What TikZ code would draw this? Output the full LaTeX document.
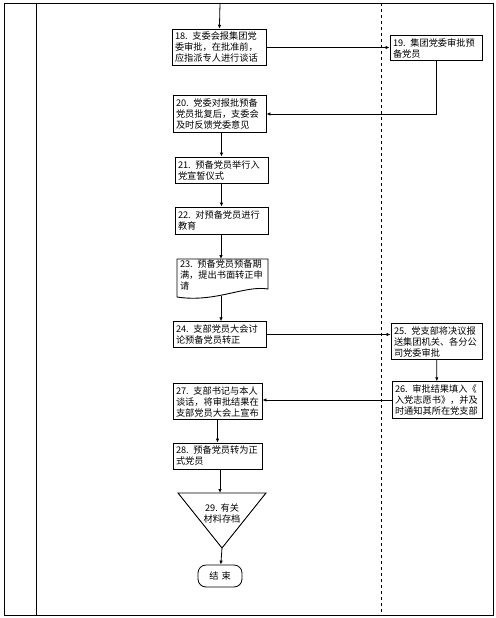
\documentclass[tikz,border=0pt]{standalone}
\usepackage{fontspec}
\setmainfont{Noto Sans CJK SC}
\usetikzlibrary{arrows.meta}

\tikzset{
  stepbox/.style={draw, line width=0.9pt, align=left, inner sep=3pt,
    anchor=center, font=\fontsize{9.2}{11}\selectfont},
  flow/.style={line width=0.8pt, ->},
}

\begin{document}
\begin{tikzpicture}[x=1pt, y=-1pt, >={Latex[length=4pt,width=3.5pt]}]
      \useasboundingbox (0,0) rectangle (495,618);
      \draw[line width=0.9pt] (4,3) rectangle (493,615);
      \draw[line width=0.9pt] (36,3) -- (36,615);
      \draw[dashed, line width=0.7pt] (381,3) -- (381,615);
      \coordinate (top) at (220,3);
      \node[stepbox, text width=88pt, minimum height=33pt] at (219, 47.5) (s18) {18. 支委会报集团党\\委审批，在批准前，\\应指派专人进行谈话};
      \node[stepbox, text width=86pt, minimum height=24pt] at (436, 48)   (s19) {19. 集团党委审批预\\备党员};
      \node[stepbox, text width=87pt, minimum height=34pt] at (219.5, 114) (s20) {20. 党委对报批预备\\党员批复后，支委会\\及时反馈党委意见};
      \node[stepbox, text width=87pt, minimum height=26pt] at (221.5, 170) (s21) {21. 预备党员举行入\\党宣誓仪式};
      \node[stepbox, text width=87pt, minimum height=27pt] at (221.5, 220.5) (s22) {22. 对预备党员进行\\教育};
      \node[stepbox, draw=none, text width=85pt] at (222.5, 275) (s23) {23. 预备党员预备期\\满，提出书面转正申\\请};
      \draw[line width=0.9pt] (177,259) -- (268,259) -- (268,289)
        .. controls (245,285) and (215,303) .. (177,297) -- cycle;
      \coordinate (s23b) at (221,296);
      \node[stepbox, text width=87pt, minimum height=25pt] at (219.5, 334.5) (s24) {24. 支部党员大会讨\\论预备党员转正};
      \node[stepbox, text width=85pt, minimum height=33pt] at (436.5, 341.5) (s25) {25. 党支部将决议报\\送集团机关、各分公\\司党委审批};
      \node[stepbox, text width=84pt, minimum height=34pt] at (437, 400)   (s26) {26. 审批结果填入《\\入党志愿书》，并及\\时通知其所在党支部};
      \node[stepbox, text width=83pt, minimum height=35pt] at (217.5, 401.5) (s27) {27. 支部书记与本人\\谈话，将审批结果在\\支部党员大会上宣布};
      \node[stepbox, text width=83pt, minimum height=26pt] at (217.5, 456) (s28) {28. 预备党员转为正\\式党员};
      \draw[line width=0.9pt] (178,493) coordinate (t1) -- (266,493) -- (222,548) coordinate (t3) -- cycle;
      \coordinate (t2) at (220,493);
      \node[font=\fontsize{9.2}{11}\selectfont, align=center] at (222, 513) (s29) {29. 有关\\材料存档};
      \node[draw, line width=0.8pt, rounded corners=8pt, minimum width=44pt, minimum height=22pt,
        font=\fontsize{9.2}{11}\selectfont] at (220, 576) (end) {结\,\,束};
      \path[draw,flow] (top) -- (s18);
      \path[draw,flow] (s18) -- (s18 -| s19.west);
      \path[draw,flow] (s19.south) |- (s20);
      \path[draw,flow] (s20.south -| s21) -- (s21);
      \path[draw,flow] (s21) -- (s22);
      \path[draw,flow] (s22.south -| 221,0) -- (221,259);
      \path[draw,flow] (s23b) -- (s23b |- s24.north);
      \path[draw,flow] (s24) -- (s24 -| s25.west);
      \path[draw,flow] (s25) -- (s26);
      \path[draw,flow] (s26) -- (s26 -| s27.east);
      \path[draw,flow] (s27) -- (s28);
      \path[draw,flow] (s28.south -| t2) -- (t2);
      \path[draw,flow] (t3) -- (end);
    \end{tikzpicture}
\end{document}
